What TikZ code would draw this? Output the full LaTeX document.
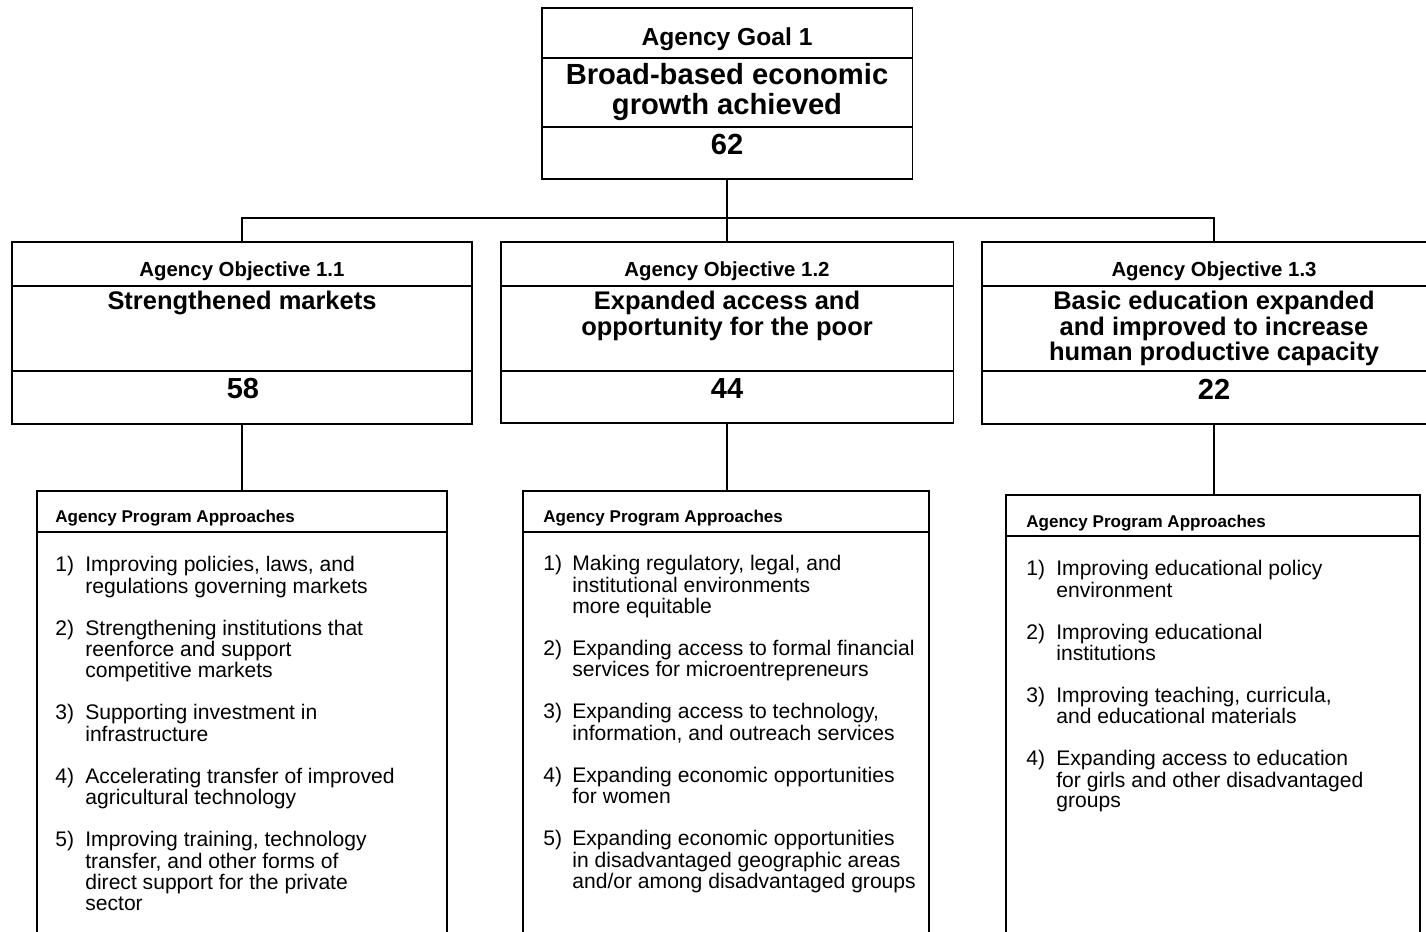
\documentclass[tikz,border=0pt]{standalone}
\usepackage{fontspec}
\setmainfont{Liberation Sans}
\usepackage{array}
\usetikzlibrary{positioning}
\tikzstyle{outline} = [rectangle, draw=black, line width=1.1pt, inner sep=0pt]
\tikzstyle{divider} = [line width=0.7pt]
\tikzstyle{link} = [line width=1.1pt]
\tikzstyle{goalhead} = [inner sep=0pt, font=\bfseries\fontsize{14}{16}\selectfont]
\tikzstyle{goalname} = [inner sep=0pt, align=center, font=\bfseries\fontsize{16.6}{17}\selectfont]
\tikzstyle{objhead} = [inner sep=0pt, font=\bfseries\fontsize{11.6}{13}\selectfont]
\tikzstyle{objname} = [inner sep=0pt, anchor=north, align=center, font=\bfseries\fontsize{14.5}{14.5}\selectfont]
\tikzstyle{objnum} = [inner sep=0pt, font=\bfseries\fontsize{16.5}{17}\selectfont]
\tikzstyle{proghead} = [inner sep=0pt, anchor=west, font=\bfseries\fontsize{9.7}{11}\selectfont]
\tikzstyle{proglist} = [inner sep=0pt, anchor=north west, font=\fontsize{12}{11.7}\selectfont]

\begin{document}
\begin{tikzpicture}[x=0.02cm, y=-0.02cm]
  \useasboundingbox (0,0) rectangle (1426,932);
  \clip (0,0) rectangle (1426,932);

  % goal
  \node (goal) [outline, minimum width=7.42cm, minimum height=3.42cm] at (727,93.5) {};
  \draw [divider] (goal.west |- 0,58) -- (goal.east |- 0,58);
  \draw [divider] (goal.west |- 0,127) -- (goal.east |- 0,127);
  \node (goaltitle) [goalhead] at (727,39) {Agency Goal 1};
  \node (goaltext) [goalname] at (727,92) {Broad-based economic\\growth achieved};
  \node (goalnum) [goalname] at (727,144) {62};

  % objectives
  \node (obj1) [outline, minimum width=9.2cm, minimum height=3.64cm] at (242,333) {};
  \node (obj2) [outline, minimum width=9.06cm, minimum height=3.62cm] at (727,332.5) {};
  \node (obj3) [outline, minimum width=9.28cm, minimum height=3.64cm] at (1214,333) {};
  \draw [divider] (obj1.west |- 0,286) -- (obj1.east |- 0,286);
  \draw [divider] (obj1.west |- 0,371) -- (obj1.east |- 0,371);
  \draw [divider] (obj2.west |- 0,286) -- (obj2.east |- 0,286);
  \draw [divider] (obj2.west |- 0,371) -- (obj2.east |- 0,371);
  \draw [divider] (obj3.west |- 0,286) -- (obj3.east |- 0,286);
  \draw [divider] (obj3.west |- 0,371) -- (obj3.east |- 0,371);
  \node (obj1title) [objhead] at (242,271) {Agency Objective 1.1};
  \node (obj2title) [objhead] at (727,271) {Agency Objective 1.2};
  \node (obj3title) [objhead] at (1214,271) {Agency Objective 1.3};
  \node (obj1text) [objname] at (242,291) {Strengthened markets};
  \node (obj2text) [objname] at (727,291) {Expanded access and\\opportunity for the poor};
  \node (obj3text) [objname] at (1214,291) {Basic education expanded\\and improved to increase\\human productive capacity};
  \node (obj1num) [objnum] at (243,389) {58};
  \node (obj2num) [objnum] at (727,389) {44};
  \node (obj3num) [objnum] at (1214,389) {22};

  % program approaches
  \node (prog1) [outline, minimum width=8.22cm, minimum height=9.38cm] at (242,725.5) {};
  \node (prog2) [outline, minimum width=8.12cm, minimum height=9.38cm] at (726,725.5) {};
  \node (prog3) [outline, minimum width=8.28cm, minimum height=9.3cm] at (1213,727.5) {};
  \draw [divider] (prog1.west |- 0,532) -- (prog1.east |- 0,532);
  \draw [divider] (prog2.west |- 0,532) -- (prog2.east |- 0,532);
  \draw [divider] (prog3.west |- 0,536) -- (prog3.east |- 0,536);
  \node (prog1title) [proghead] at (55,518) {Agency Program Approaches};
  \node (prog2title) [proghead] at (543,518) {Agency Program Approaches};
  \node (prog3title) [proghead] at (1026,523) {Agency Program Approaches};

  \node (prog1list) [proglist] at (55,556) {%
    \begin{tabular}{@{}p{0.6cm}@{}l@{}}
      1) & Improving policies, laws, and\\
         & regulations governing markets\\[11.7pt]
      2) & Strengthening institutions that\\
         & reenforce and support\\
         & competitive markets\\[11.7pt]
      3) & Supporting investment in\\
         & infrastructure\\[11.7pt]
      4) & Accelerating transfer of improved\\
         & agricultural technology\\[11.7pt]
      5) & Improving training, technology\\
         & transfer, and other forms of\\
         & direct support for the private\\
         & sector
    \end{tabular}};
  \node (prog2list) [proglist] at (543,555) {%
    \begin{tabular}{@{}p{0.58cm}@{}l@{}}
      1) & Making regulatory, legal, and\\
         & institutional environments\\
         & more equitable\\[11.7pt]
      2) & Expanding access to formal financial\\
         & services for microentrepreneurs\\[11.7pt]
      3) & Expanding access to technology,\\
         & information, and outreach services\\[11.7pt]
      4) & Expanding economic opportunities\\
         & for women\\[11.7pt]
      5) & Expanding economic opportunities\\
         & in disadvantaged geographic areas\\
         & and/or among disadvantaged groups
    \end{tabular}};
  \node (prog3list) [proglist] at (1026,560) {%
    \begin{tabular}{@{}p{0.6cm}@{}l@{}}
      1) & Improving educational policy\\
         & environment\\[11.7pt]
      2) & Improving educational\\
         & institutions\\[11.7pt]
      3) & Improving teaching, curricula,\\
         & and educational materials\\[11.7pt]
      4) & Expanding access to education\\
         & for girls and other disadvantaged\\
         & groups
    \end{tabular}};

  % connectors
  \coordinate (bus) at (goal.south |- 0,218);
  \draw [link] (goal.south) -- (bus);
  \draw [link] (obj1.north) |- (bus) -| (obj3.north);
  \draw [link] (bus) -- (obj2.north);
  \draw [link] (obj1.south) -- (obj1.south |- prog1.north);
  \draw [link] (obj2.south) -- (obj2.south |- prog2.north);
  \draw [link] (obj3.south) -- (obj3.south |- prog3.north);
\end{tikzpicture}
\end{document}
